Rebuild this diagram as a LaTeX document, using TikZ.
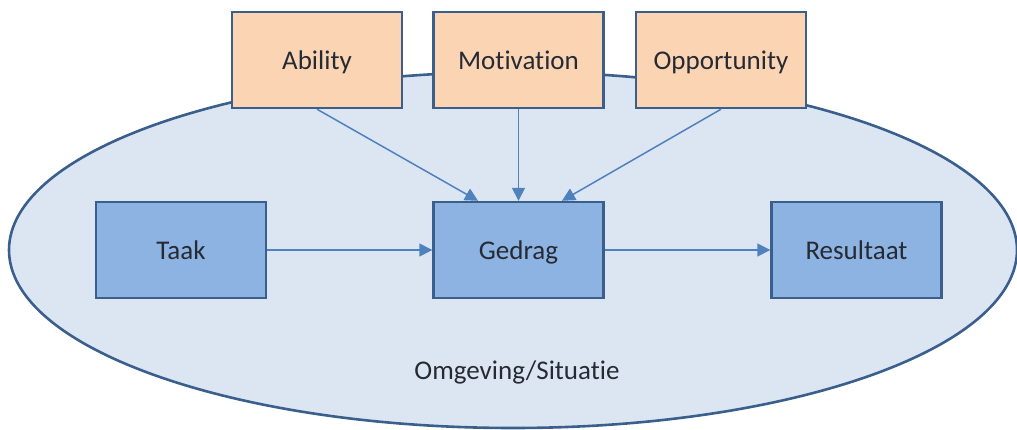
\documentclass[tikz,border=0pt]{standalone}
\usepackage{fontspec}
\setmainfont{Carlito}[Ligatures={NoCommon}]
\usepackage{tikz}
\usetikzlibrary{arrows.meta,positioning}
\definecolor{rim}{HTML}{3A5F8C}
\definecolor{fieldcol}{HTML}{DCE6F2}
\definecolor{peach}{HTML}{FBD4B4}
\definecolor{stagecol}{HTML}{8DB3E2}
\definecolor{linkcol}{HTML}{4F81BD}
\definecolor{inkcol}{HTML}{262A33}

\begin{document}
\begin{tikzpicture}[x=1pt, y=-1pt,
        line join=miter,
        box/.style={draw=rim, line width=2.4pt, minimum width=170pt,
            minimum height=96pt, inner sep=0pt, text=inkcol,
            text height=20pt, text depth=0pt,
            font=\fontsize{27}{32}\selectfont},
        factor/.style={box, fill=peach},
        stage/.style={box, fill=stagecol},
        link/.style={linkcol, line width=1.5pt,
            -{Triangle[length=13pt,width=13pt]}}]
        \useasboundingbox (0,0) rectangle (1017,430);

        % surrounding situation
        \draw[rim, line width=2.6pt, fill=fieldcol] (513,250) ellipse [x radius=504, y radius=178];
        \node[inkcol, font=\fontsize{27}{32}\selectfont] (situatie) at (517,372) {Omgeving/Situatie};

        % chain
        \node[stage] (taak) at (181,250) {Taak};
        \node[stage] (gedrag) at (518.5,250) {Gedrag};
        \node[stage] (resultaat) at (856.5,250) {Resultaat};

        % AMO factors
        \node[factor] (ability) at (317,60) {Ability};
        \node[factor] (motivation) at (518.5,60) {Motivation};
        \node[factor] (opportunity) at (721,60) {Opportunity};

        \draw[link] (taak) -- (gedrag);
        \draw[link] (gedrag) -- (resultaat);
        \draw[link] (ability.south) -- (gedrag.north -| 478,0);
        \draw[link] (motivation) -- (gedrag);
        \draw[link] (opportunity.south) -- (gedrag.north -| 562,0);

    \end{tikzpicture}
\end{document}
